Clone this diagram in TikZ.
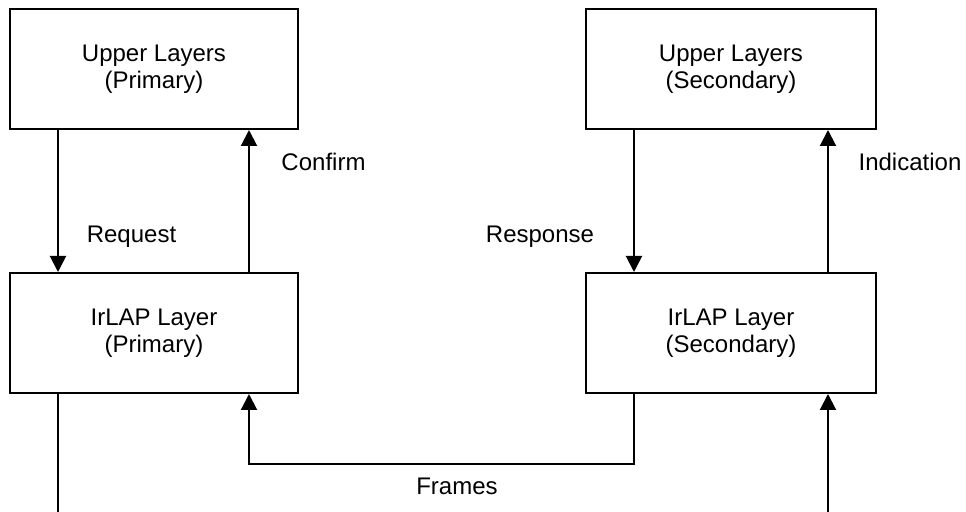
\documentclass[tikz,border=0pt]{standalone}
\usepackage{fontspec}
\setmainfont{Liberation Sans}
\usetikzlibrary{arrows.meta}
\begin{document}
\begin{tikzpicture}[x=0.5pt,y=-0.5pt,
  box/.style={draw,line width=1pt,rectangle,minimum width=144pt,minimum height=60pt,align=center,inner sep=0pt,
    font=\fontsize{12}{13.6}\selectfont},
  lbl/.style={anchor=base,inner sep=0pt,font=\fontsize{12}{13.6}\selectfont},
  conn/.style={line width=1pt},
  arr/.style={conn,-{Triangle[width=8pt,length=8pt]}}]
\useasboundingbox (0,0) rectangle (966,512);
\node[box] (ulp) at (154,69) {Upper Layers\\(Primary)};
\node[box] (irp) at (154,333) {IrLAP Layer\\(Primary)};
\node[box,minimum width=145pt] (uls) at (731,69) {Upper Layers\\(Secondary)};
\node[box,minimum width=145pt] (irs) at (731,333) {IrLAP Layer\\(Secondary)};
\coordinate (c1) at (58,0);
\coordinate (c2) at (249,0);
\coordinate (c3) at (634,0);
\coordinate (c4) at (828,0);
\coordinate (fy) at (0,464);
\coordinate (bl) at (58,512);
\coordinate (br) at (828,512);
\draw[arr] (ulp.south -| c1) -- (irp.north -| c1);
\draw[arr] (irp.north -| c2) -- (ulp.south -| c2);
\draw[arr] (uls.south -| c3) -- (irs.north -| c3);
\draw[arr] (irs.north -| c4) -- (uls.south -| c4);
\draw[arr] (irs.south -| c3) -- (c3 |- fy) -- (c2 |- fy) -- (irp.south -| c2);
\draw[conn] (irp.south -| bl) -- (bl);
\draw[arr] (br) -- (irs.south -| br);
\node[lbl] (confirm) at (323.5,171) {Confirm};
\node[lbl] (request) at (131.5,242.7) {Request};
\node[lbl] (response) at (540,242.7) {Response};
\node[lbl] (indication) at (910,171) {Indication};
\node[lbl] (frames) at (457,495) {Frames};
\end{tikzpicture}
\end{document}
